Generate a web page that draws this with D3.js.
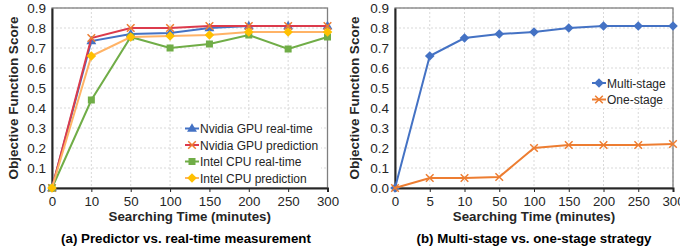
<!DOCTYPE html>
<html>
<head>
<meta charset="utf-8">
<script src="https://cdn.jsdelivr.net/npm/d3@7"></script>
<style>
body { margin: 0; background: #fff; }
svg { display: block; font-family: "Liberation Sans", Arial, sans-serif; }
</style>
</head>
<body>
<svg width="680" height="252"></svg>
<script>
// chart (a) data
var timesA = ["0", "10", "50", "100", "150", "200", "250", "300"];
var gpuReal = [0, 0.735, 0.77, 0.775, 0.80, 0.81, 0.81, 0.81];
var gpuPred = [0, 0.75, 0.80, 0.80, 0.81, 0.81, 0.81, 0.81];
var cpuReal = [0, 0.44, 0.755, 0.70, 0.72, 0.765, 0.695, 0.755];
var cpuPred = [0, 0.66, 0.755, 0.76, 0.765, 0.78, 0.78, 0.78];
var namesA = ["Nvidia GPU real-time", "Nvidia GPU prediction", "Intel CPU real-time", "Intel CPU prediction"];

// chart (b) data
var timesB = ["0", "5", "10", "50", "100", "150", "200", "250", "300"];
var multiStage = [0, 0.66, 0.75, 0.77, 0.78, 0.80, 0.81, 0.81, 0.81];
var oneStage = [0, 0.05, 0.05, 0.055, 0.20, 0.215, 0.215, 0.215, 0.22];
var namesB = ["Multi-stage", "One-stage"];

var yTicks = [0, 0.1, 0.2, 0.3, 0.4, 0.5, 0.6, 0.7, 0.8, 0.9];

var svg = d3.select("svg");

// marker shapes
function marker(g, type, x, y, color) {
	if (type == "triangle") {
		g.append("path").attr("d", d3.symbol(d3.symbolTriangle, 42)())
			.attr("transform", "translate(" + x + "," + (y + 0.5) + ")").attr("fill", color);
	} else if (type == "x") {
		var s = 3.8;
		g.append("path").attr("d", "M" + (x - s) + "," + (y - s) + "L" + (x + s) + "," + (y + s) + "M" + (x - s) + "," + (y + s) + "L" + (x + s) + "," + (y - s))
			.attr("stroke", color).attr("stroke-width", 1.5).attr("fill", "none");
	} else if (type == "square") {
		g.append("rect").attr("x", x - 3.5).attr("y", y - 3.5).attr("width", 7).attr("height", 7).attr("fill", color);
	} else if (type == "diamond") {
		var d = 4.8;
		g.append("path").attr("d", "M" + x + "," + (y - d) + "L" + (x + d) + "," + y + "L" + x + "," + (y + d) + "L" + (x - d) + "," + y + "Z")
			.attr("fill", color);
	}
}

function drawChart(opt) {
	var g = svg.append("g");
	var x = d3.scalePoint().domain(opt.cats).range([opt.left, opt.right]).padding(0);
	var y = d3.scaleLinear().domain([0, 0.9]).range([188, 8]);

	// gridlines
	g.selectAll(".hg").data(yTicks.slice(1)).enter().append("line")
		.attr("x1", opt.left).attr("x2", opt.right)
		.attr("y1", function(d){ return y(d); }).attr("y2", function(d){ return y(d); })
		.attr("stroke", "#d9d9d9").attr("stroke-dasharray", "2,2");
	g.selectAll(".vg").data(opt.cats.slice(1)).enter().append("line")
		.attr("x1", function(d){ return x(d); }).attr("x2", function(d){ return x(d); })
		.attr("y1", 8).attr("y2", 188)
		.attr("stroke", "#d9d9d9").attr("stroke-dasharray", "2,2");

	// plot border
	g.append("rect").attr("x", opt.left).attr("y", 8).attr("width", opt.right - opt.left).attr("height", 180)
		.attr("fill", "none").attr("stroke", "#7f7f7f").attr("stroke-width", 1.3);

	// axes
	var xAxis = d3.axisBottom(x).tickSize(4).tickPadding(5);
	var ax = g.append("g").attr("transform", "translate(0,188)").call(xAxis);
	ax.select(".domain").attr("stroke", "#262626").attr("stroke-width", 2);
	ax.selectAll(".tick line").attr("stroke", "#262626");
	ax.selectAll("text").attr("font-size", 13.3).attr("fill", "#262626").attr("font-family", "Liberation Sans, Arial");

	var yAxis = d3.axisLeft(y).tickValues(yTicks).tickSize(0).tickPadding(6).tickFormat(opt.yFmt);
	var ay = g.append("g").attr("transform", "translate(" + opt.left + ",0)").call(yAxis);
	ay.select(".domain").attr("stroke", "#262626").attr("stroke-width", 2);
	ay.selectAll("text").attr("font-size", 13.5).attr("fill", "#262626").attr("font-family", "Liberation Sans, Arial");

	// lines and markers
	opt.series.forEach(function(s) {
		var line = d3.line().x(function(d, i){ return x(opt.cats[i]); }).y(function(d){ return y(d); });
		g.append("path").datum(s.values).attr("d", line).attr("fill", "none")
			.attr("stroke", s.line).attr("stroke-width", 2);
		s.values.forEach(function(v, i) {
			marker(g, s.shape, x(opt.cats[i]), y(v), s.mark);
		});
	});

	// legend
	var lg = g.append("g");
	lg.append("rect").attr("x", opt.legX - 2).attr("y", opt.legY - 9).attr("width", opt.legW).attr("height", opt.series.length * 16.5 + 1)
		.attr("fill", "#fff");
	opt.series.forEach(function(s, i) {
		var ly = opt.legY + i * 16.5;
		lg.append("line").attr("x1", opt.legX).attr("x2", opt.legX + 14).attr("y1", ly).attr("y2", ly)
			.attr("stroke", s.line).attr("stroke-width", 2);
		marker(lg, s.shape, opt.legX + 7, ly, s.mark);
		lg.append("text").attr("x", opt.legX + 15).attr("y", ly + 4.5).attr("font-size", 12)
			.attr("fill", "#262626").text(s.name);
	});

	// titles
	var cx = (opt.left + opt.right) / 2;
	g.append("text").attr("x", cx).attr("y", 221).attr("text-anchor", "middle")
		.attr("font-size", 13.3).attr("font-weight", "bold").attr("fill", "#262626").text("Searching Time (minutes)");
	g.append("text").attr("transform", "translate(" + opt.yTitleX + ",98) rotate(-90)").attr("text-anchor", "middle")
		.attr("font-size", 13.5).attr("font-weight", "bold").attr("fill", "#262626").text("Objective Function Score");
	g.append("text").attr("x", opt.capX).attr("y", 243).attr("text-anchor", "middle")
		.attr("font-size", 13.3).attr("font-weight", "bold").attr("fill", "#000").text(opt.caption);
}

drawChart({
	cats: timesA, left: 52, right: 327.5, yTitleX: 18, capX: 186,
	yFmt: function(d){ return d == 0 ? "0" : d3.format(".1f")(d); },
	legX: 185, legY: 128.5, legW: 138,
	caption: "(a) Predictor vs. real-time measurement",
	series: [
		{ name: namesA[0], values: gpuReal, line: "#4472c4", mark: "#4472c4", shape: "triangle" },
		{ name: namesA[1], values: gpuPred, line: "#dc3b4c", mark: "#ed7d31", shape: "x" },
		{ name: namesA[2], values: cpuReal, line: "#70ad47", mark: "#70ad47", shape: "square" },
		{ name: namesA[3], values: cpuPred, line: "#ffb366", mark: "#ffc000", shape: "diamond" }
	]
});

drawChart({
	cats: timesB, left: 395, right: 673, yTitleX: 359, capX: 534,
	yFmt: d3.format(".1f"),
	legX: 592, legY: 83, legW: 80,
	caption: "(b) Multi-stage vs. one-stage strategy",
	series: [
		{ name: namesB[0], values: multiStage, line: "#4472c4", mark: "#4472c4", shape: "diamond" },
		{ name: namesB[1], values: oneStage, line: "#ed7d31", mark: "#ed7d31", shape: "x" }
	]
});
</script>
</body>
</html>
